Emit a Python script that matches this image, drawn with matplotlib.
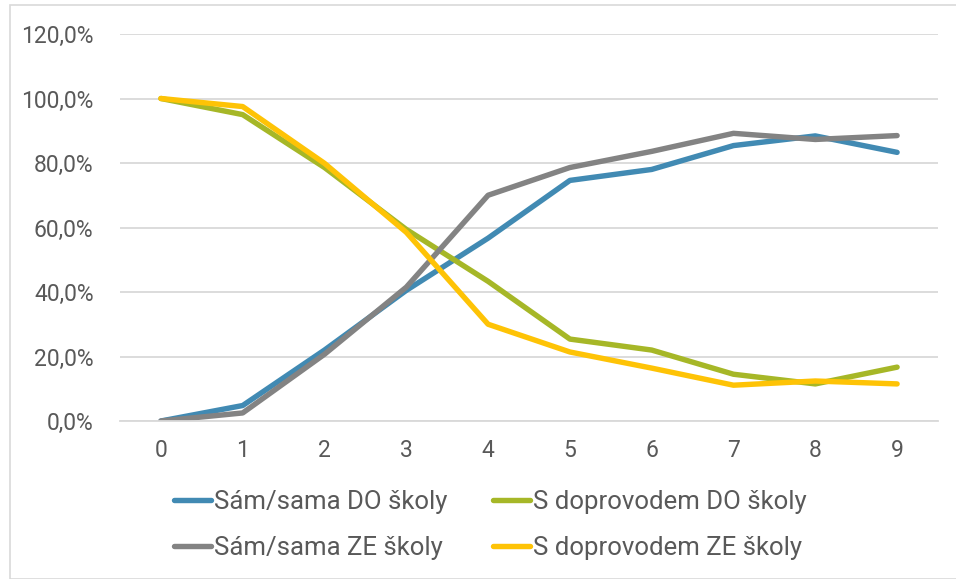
import matplotlib.pyplot as plt
from matplotlib.patches import Rectangle
from matplotlib.ticker import FuncFormatter

# Data
years = [0, 1, 2, 3, 4, 5, 6, 7, 8, 9]
sam_do = [0.0, 4.8, 22.0, 40.5, 56.7, 74.6, 78.0, 85.4, 88.4, 83.3]
doprovod_do = [100.0, 95.0, 78.6, 59.4, 43.3, 25.4, 22.0, 14.5, 11.5, 16.7]
sam_ze = [0.0, 2.5, 20.7, 41.5, 70.0, 78.6, 83.6, 89.2, 87.3, 88.5]
doprovod_ze = [100.0, 97.5, 79.9, 58.5, 30.0, 21.4, 16.4, 11.1, 12.4, 11.5]

labels = ["Sám/sama DO školy", "S doprovodem DO školy",
          "Sám/sama ZE školy", "S doprovodem ZE školy"]
colors = ["#418AB3", "#A6B727", "#838383", "#FEC306"]

plt.rcParams['font.family'] = ['Roboto', 'DejaVu Sans']
text_color = "#595959"

fig = plt.figure(figsize=(9.56, 5.79), dpi=100)
ax = fig.add_axes([120 / 956, (579 - 421) / 579, 818 / 956, (421 - 34) / 579])

series = [sam_do, doprovod_do, sam_ze, doprovod_ze]
lines = []
for vals, lab, col in zip(series, labels, colors):
    ln, = ax.plot(years, vals, color=col, lw=3.9, label=lab,
                  solid_capstyle='round', solid_joinstyle='round')
    lines.append(ln)

ax.set_xlim(-0.5, 9.5)
ax.set_ylim(0, 120)
ax.set_yticks(range(0, 121, 20))
ax.yaxis.set_major_formatter(FuncFormatter(lambda v, p: f"{v:.1f}%".replace('.', ',')))
ax.set_xticks(years)

ax.grid(axis='y', color='#D9D9D9', lw=1.3)
ax.set_axisbelow(True)
for s in ['top', 'right', 'left']:
    ax.spines[s].set_visible(False)
ax.spines['bottom'].set_color('#D9D9D9')
ax.spines['bottom'].set_linewidth(1.3)
ax.tick_params(axis='both', length=0, labelsize=16.5, colors=text_color)
ax.tick_params(axis='y', pad=19)
ax.tick_params(axis='x', pad=13)

# legend in two columns below the plot (column-major fill, so reorder)
order = [0, 2, 1, 3]
leg = fig.legend(handles=[lines[i] for i in order], labels=[labels[i] for i in order],
                 ncol=2, loc='center', bbox_to_anchor=(0.513, (579 - 525) / 579),
                 frameon=False, fontsize=18.5, handlelength=1.45, handletextpad=0.12,
                 columnspacing=1.75, labelspacing=0.85, labelcolor=text_color)

# chart border
fig.patches.append(Rectangle((10 / 956, 0), 1.2, (579 - 5) / 579, transform=fig.transFigure,
                             fill=False, edgecolor='#D9D9D9', lw=1.2))

plt.savefig('out.png', dpi=100)
